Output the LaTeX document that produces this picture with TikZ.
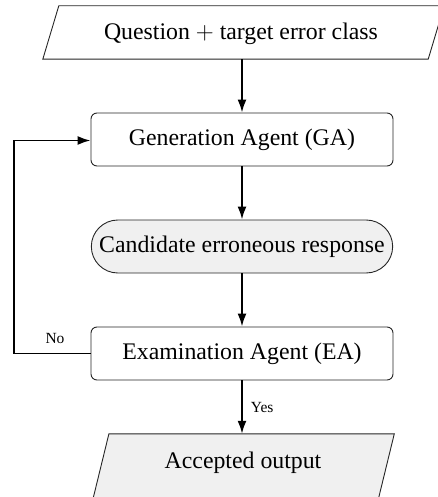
\documentclass[tikz,border=0pt]{standalone}
\usepackage{fontspec}
\setmainfont{Liberation Serif}
\usetikzlibrary{arrows.meta,shapes.misc,calc}
\begin{document}
\begin{tikzpicture}[x=1pt,y=-1pt,
  font=\fontsize{23.8}{27}\selectfont,
  boxstyle/.style={draw=black!85,line width=0.9pt,rounded corners=6pt,minimum width=302pt,minimum height=53pt,fill=white},
  termstyle/.style={draw=black!85,line width=0.9pt,rounded rectangle,minimum width=308pt,minimum height=53pt,fill=black!6},
  iostyle/.style={draw=black!85,line width=0.9pt},
  txtstyle/.style={inner sep=0pt},
  flow/.style={line width=1.9pt,-{Latex[length=13pt,width=9pt]}},
  lbl/.style={font=\fontsize{15.5}{18}\selectfont,inner sep=0pt}]
\useasboundingbox (0,0) rectangle (437,497);
% input parallelogram
\node[txtstyle,minimum width=385pt,minimum height=53pt] (q) at (243.5,32.5) {};
\draw[iostyle,fill=white] ($(q.north west)+(8,0)$) -- ($(q.north east)+(8,0)$) -- ($(q.south east)+(-8,0)$) -- ($(q.south west)+(-8,0)$) -- cycle;
\node[txtstyle] (qtxt) at (241,34) {Question $+$ target error class};
% boxes
\node[boxstyle] (ga) at (242,139.5) {Generation Agent (GA)};
\node[termstyle] (cand) at (242,246.5) {Candidate erroneous response};
\node[boxstyle] (ea) at (242,353.5) {Examination Agent (EA)};
% output parallelogram
\node[txtstyle,minimum width=285pt,minimum height=70pt] (out) at (243,469) {};
\draw[iostyle,fill=black!6] ($(out.north west)+(8.6,0)$) -- ($(out.north east)+(8.6,0)$) -- ($(out.south east)+(-8.6,0)$) -- ($(out.south west)+(-8.6,0)$) -- cycle;
\node[txtstyle] (outtxt) at (243,463) {Accepted output};
% connectors
\draw[flow] (q.south -| ga.north) -- (ga.north);
\draw[flow] (ga.south) -- (cand.north);
\draw[flow] (cand.south) -- (ea.north);
\draw[flow] (ea.south) -- node[lbl,right=8pt]{Yes} (ea.south |- out.north);
\coordinate (lb) at (14,353.5);
\coordinate (lt) at (14,140.5);
\draw[flow] (ea.west) -- (lb) -- (lt) -- (lt -| ga.west);
\node[lbl] (no) at (55,338) {No};
\end{tikzpicture}
\end{document}
